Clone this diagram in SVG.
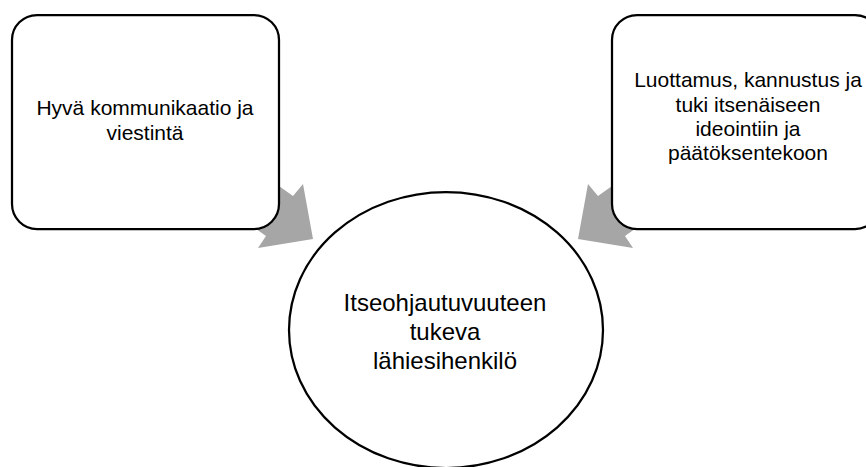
<svg xmlns="http://www.w3.org/2000/svg" width="866" height="467" viewBox="0 0 866 467">
<style>
.box{fill:#fff;stroke:#000;stroke-width:2.25}
.arrow{fill:#a6a6a6;stroke:none}
.t{font-family:"Liberation Sans",Arial,sans-serif;font-size:21px;fill:#000;text-anchor:middle}
.tc{font-size:24px}
</style>
<rect width="866" height="467" fill="#fff"/>
<g id="connectors">
<polygon class="arrow" points="244,161 293,196 303,184 313,239 258,248 266,236 217,201"/>
<polygon class="arrow" points="647,161 598,196 588,184 578,239 633,248 625,236 674,201"/>
</g>
<g id="node-left">
<rect class="box" x="12" y="15" width="267" height="214" rx="25"/>
<text class="t" x="145" y="115">Hyvä kommunikaatio ja</text>
<text class="t" x="145" y="140">viestintä</text>
</g>
<g id="node-right">
<rect class="box" x="612" y="15" width="268" height="214" rx="25"/>
<text class="t" x="748" y="87">Luottamus, kannustus ja</text>
<text class="t" x="748" y="112">tuki itsenäiseen</text>
<text class="t" x="748" y="136">ideointiin ja</text>
<text class="t" x="748" y="160">päätöksentekoon</text>
</g>
<g id="node-center">
<ellipse class="box" cx="446" cy="330" rx="157" ry="138"/>
<text class="t tc" x="445" y="311">Itseohjautuvuuteen</text>
<text class="t tc" x="445" y="340">tukeva</text>
<text class="t tc" x="445" y="369">lähiesihenkilö</text>
</g>
</svg>
